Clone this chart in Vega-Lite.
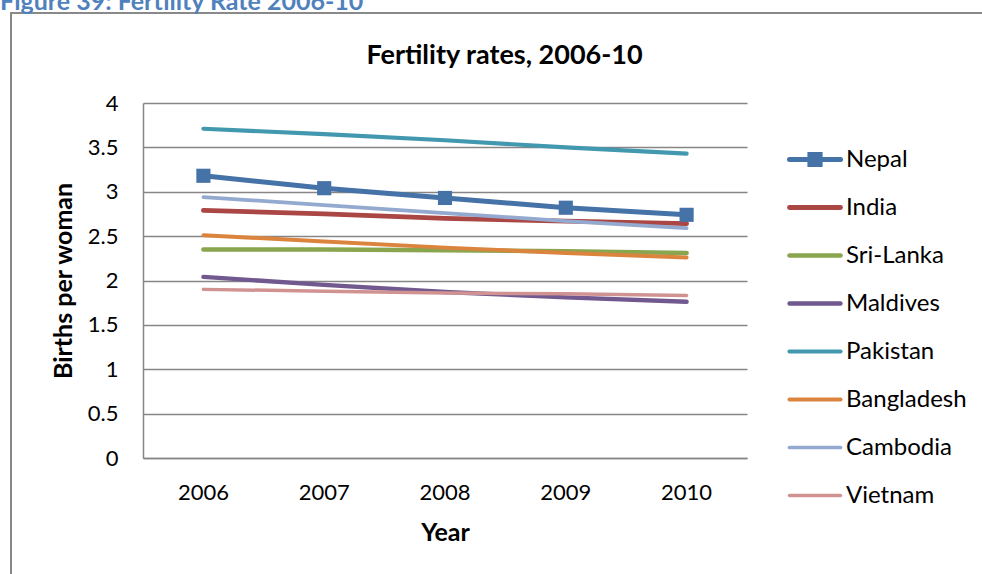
{
  "$schema": "https://vega.github.io/schema/vega-lite/v6.json",
  "width": 971,
  "height": 561,
  "autosize": {"type": "none"},
  "padding": {"left": 11, "top": 13, "right": 0, "bottom": 0},
  "background": "white",
  "title": {
    "text": "Figure 39: Fertility Rate 2006-10",
    "anchor": "start",
    "frame": "group",
    "baseline": "alphabetic",
    "offset": -22,
    "dx": -11,
    "font": "Lato",
    "fontSize": 25,
    "fontWeight": "bold",
    "color": "#4F81BD"
  },
  "data": {
    "values": [
      {"country": "Nepal", "year": "2006", "rate": 3.18},
      {"country": "Nepal", "year": "2007", "rate": 3.04},
      {"country": "Nepal", "year": "2008", "rate": 2.93},
      {"country": "Nepal", "year": "2009", "rate": 2.82},
      {"country": "Nepal", "year": "2010", "rate": 2.74},
      {"country": "India", "year": "2006", "rate": 2.79},
      {"country": "India", "year": "2007", "rate": 2.75},
      {"country": "India", "year": "2008", "rate": 2.7},
      {"country": "India", "year": "2009", "rate": 2.67},
      {"country": "India", "year": "2010", "rate": 2.64},
      {"country": "Sri-Lanka", "year": "2006", "rate": 2.35},
      {"country": "Sri-Lanka", "year": "2007", "rate": 2.35},
      {"country": "Sri-Lanka", "year": "2008", "rate": 2.34},
      {"country": "Sri-Lanka", "year": "2009", "rate": 2.33},
      {"country": "Sri-Lanka", "year": "2010", "rate": 2.31},
      {"country": "Maldives", "year": "2006", "rate": 2.04},
      {"country": "Maldives", "year": "2007", "rate": 1.95},
      {"country": "Maldives", "year": "2008", "rate": 1.87},
      {"country": "Maldives", "year": "2009", "rate": 1.81},
      {"country": "Maldives", "year": "2010", "rate": 1.76},
      {"country": "Pakistan", "year": "2006", "rate": 3.71},
      {"country": "Pakistan", "year": "2007", "rate": 3.65},
      {"country": "Pakistan", "year": "2008", "rate": 3.58},
      {"country": "Pakistan", "year": "2009", "rate": 3.5},
      {"country": "Pakistan", "year": "2010", "rate": 3.43},
      {"country": "Bangladesh", "year": "2006", "rate": 2.51},
      {"country": "Bangladesh", "year": "2007", "rate": 2.44},
      {"country": "Bangladesh", "year": "2008", "rate": 2.37},
      {"country": "Bangladesh", "year": "2009", "rate": 2.31},
      {"country": "Bangladesh", "year": "2010", "rate": 2.26},
      {"country": "Cambodia", "year": "2006", "rate": 2.94},
      {"country": "Cambodia", "year": "2007", "rate": 2.85},
      {"country": "Cambodia", "year": "2008", "rate": 2.76},
      {"country": "Cambodia", "year": "2009", "rate": 2.67},
      {"country": "Cambodia", "year": "2010", "rate": 2.59},
      {"country": "Vietnam", "year": "2006", "rate": 1.9},
      {"country": "Vietnam", "year": "2007", "rate": 1.88},
      {"country": "Vietnam", "year": "2008", "rate": 1.86},
      {"country": "Vietnam", "year": "2009", "rate": 1.85},
      {"country": "Vietnam", "year": "2010", "rate": 1.83}
    ]
  },
  "layer": [
    {
      "mark": {"type": "line", "strokeCap": "round", "strokeJoin": "round"},
      "encoding": {
        "x": {
          "field": "year",
          "type": "ordinal",
          "scale": {"type": "band", "range": [132, 736], "paddingInner": 0, "paddingOuter": 0},
          "axis": {
            "orient": "bottom",
            "offset": -116,
            "title": "Year",
            "labelAngle": 0,
            "labelPadding": 24,
            "titlePadding": 17,
            "ticks": false,
            "domainColor": "#868686",
            "domainWidth": 1.5
          }
        },
        "y": {
          "field": "rate",
          "type": "quantitative",
          "scale": {"domain": [0, 4], "range": [445, 90], "nice": false, "zero": true},
          "axis": {
            "orient": "left",
            "offset": -132,
            "title": "Births per woman",
            "values": [0, 0.5, 1, 1.5, 2, 2.5, 3, 3.5, 4],
            "format": "~g",
            "labelPadding": 25,
            "titlePadding": 11,
            "ticks": false,
            "grid": true,
            "gridColor": "#868686",
            "gridWidth": 1.5,
            "domainColor": "#868686",
            "domainWidth": 1.5
          }
        },
        "color": {
          "field": "country",
          "type": "nominal",
          "scale": {
            "domain": ["Nepal", "India", "Sri-Lanka", "Maldives", "Pakistan", "Bangladesh", "Cambodia", "Vietnam"],
            "range": ["#4572A7", "#AA4643", "#89A54E", "#71588F", "#4198AF", "#DB843D", "#93A9CF", "#D19392"]
          },
          "legend": {
            "orient": "none",
            "legendX": 776,
            "legendY": 122.5,
            "title": null,
            "padding": 0,
            "symbolType": "stroke",
            "symbolSize": 2601,
            "symbolStrokeWidth": 4.5,
            "labelFont": "Lato",
            "labelFontSize": 24,
            "labelColor": "#000000",
            "labelOffset": 3,
            "clipHeight": 48,
            "rowPadding": 0,
            "encode": {
              "symbols": {
                "update": {
                  "shape": {"signal": "datum.value === 'Nepal' ? 'M-1,0H1M-0.2,-0.2H0.2V0.2H-0.2Z' : 'stroke'"},
                  "fill": {"signal": "datum.value === 'Nepal' ? '#4572A7' : 'transparent'"},
                  "strokeWidth": {"signal": "datum.value === 'Nepal' ? 5 : (indexof(['India','Pakistan','Cambodia'], datum.value) >= 0 ? 3.5 : 4.5)"},
                  "strokeCap": {"value": "round"}
                }
              }
            }
          }
        },
        "strokeWidth": {
          "field": "country",
          "type": "nominal",
          "scale": {
            "domain": ["Nepal", "India", "Sri-Lanka", "Maldives", "Pakistan", "Bangladesh", "Cambodia", "Vietnam"],
            "range": [5, 3.5, 4.5, 4.5, 3.5, 4.5, 3.5, 4.5]
          },
          "legend": null
        }
      }
    },
    {
      "transform": [{"filter": "datum.country === 'Nepal'"}],
      "mark": {"type": "point", "shape": "square", "filled": true, "size": 200, "color": "#4572A7", "opacity": 1},
      "encoding": {
        "x": {
          "field": "year",
          "type": "ordinal",
          "axis": {
            "orient": "top",
            "offset": 0,
            "title": "Fertility rates, 2006-10",
            "labels": false,
            "ticks": false,
            "domain": false,
            "grid": false,
            "titleX": 493,
            "titleY": 50,
            "titleAlign": "center",
            "titleBaseline": "alphabetic",
            "titleFontSize": 27
          }
        },
        "y": {"field": "rate", "type": "quantitative"}
      }
    }
  ],
  "resolve": {"axis": {"x": "independent"}},
  "config": {
    "view": {
      "stroke": "#898989",
      "strokeWidth": 2,
      "strokeDash": [971, 1532, 561, 1]
    },
    "axis": {
      "labelFont": "Lato",
      "labelFontSize": 22,
      "labelColor": "#000000",
      "titleFont": "Lato",
      "titleFontSize": 25,
      "titleFontWeight": "bold",
      "titleColor": "#000000"
    }
  }
}
